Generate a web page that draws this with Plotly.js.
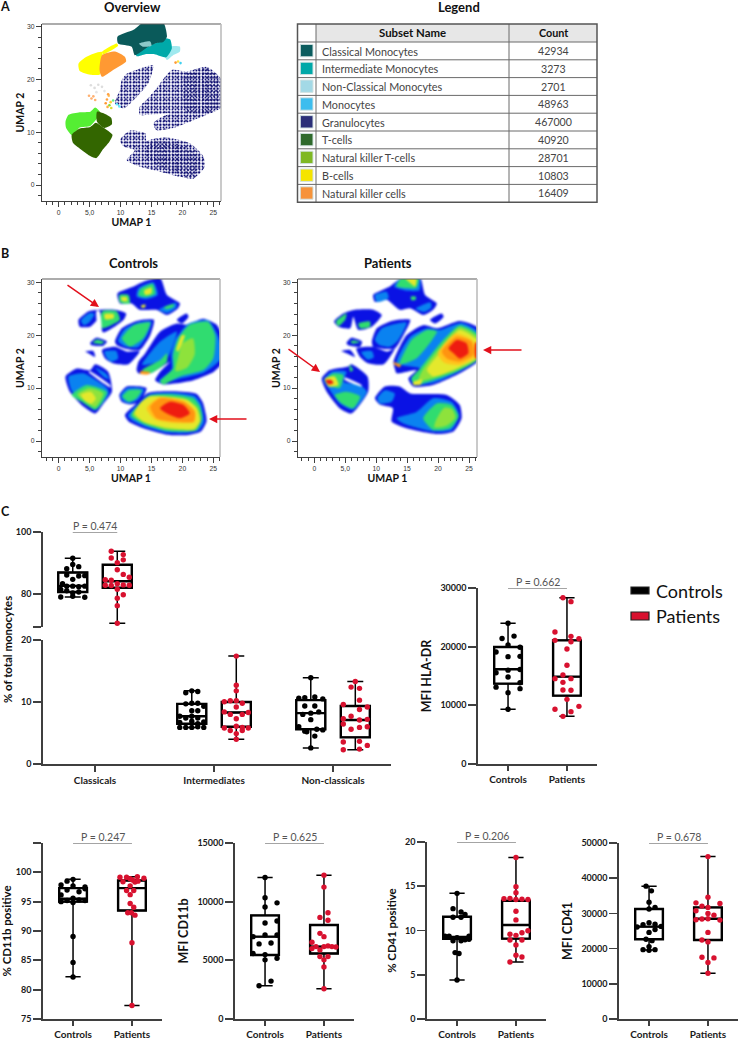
<!DOCTYPE html>
<html><head><meta charset="utf-8">
<script src="https://cdn.plot.ly/plotly-3.0.1.min.js"></script>
<style>html,body{margin:0;padding:0;background:#fff}#c{width:739px;height:1039px}</style>
</head><body><div id="c"></div>
<script>
/* ---------- legend table ---------- */
const subsetNames=['Classical Monocytes','Intermediate Monocytes','Non-Classical Monocytes','Monocytes','Granulocytes','T-cells','Natural killer T-cells','B-cells','Natural killer cells'];
const subsetCounts=[42934,3273,2701,48963,467000,40920,28701,10803,16409];
const subsetColors=['#0b5c5e','#00a8a8','#a3d9e6','#3dbdee','#2b2f78','#2f6a2c','#7fb823','#f5e400','#f6933a'];

/* ---------- UMAP regions: [kind, x,y, x,y, ...] in UMAP units ---------- */
const overviewRegions=[
 ['gran',11,21.1,13,22,15.3,22.7,14.5,19.3,13.3,17.6,12.1,16.1,10.5,14.5,9.1,15.5,9.9,18,10.2,19.9],
 ['gran',13.1,14.8,14.5,16.5,15.8,18.3,18.3,21.8,20.7,21.5,23.9,22.4,26.4,19.9,26.4,14.8,23.9,13.3,21,11.9,18.5,10.8,15.8,10.4,15.3,11.7,16.5,12.8,18,13.6,15.3,13.4,13.1,13.3],
 ['gran',9.9,8.5,11.5,10.3,14,9.8,14.2,8.4,15.5,8.8,17.5,9,21.2,7.9,23.4,5.4,23.6,3.4,21.8,1.2,19.5,1.6,17.5,2.2,13.1,3.5,11,4.7,12.3,6.6,10.5,7.3],
 ['dense',20,20.5,24,22,26.4,19.5,26.4,15,23.5,13.5,20.5,14],
 ['dense',15,8.3,20,7.5,23,5,22,2,17,3,14,5.5],
 ['#9fe9ef',18,26.2,19.6,26.2,19.6,25.3,18.5,24.6,17.5,23.7,17.2,24.3],
 ['#00a9a9',12.5,25.5,14,26.5,16,27,16.9,27.8,18,27.6,18.3,25.9,17.4,24.2,15.5,24.8,14,24.8,12.6,24.4],
 ['#0a5a5a',9.5,28.1,12.1,29.4,13.7,30.8,16.9,30.8,17.5,28.1,16.9,27.1,15.8,26.9,14.5,26.2,13.5,25.4,12.3,24.6,11.8,26.2,9.6,26.8],
 ['#8cc9c9',13,26.8,14.8,27.2,15,26.4,13.6,26.2],
 ['#ffff00',3.2,23,4.5,24.3,7,25.2,6.7,21,5.1,20.9,3.4,21.6],
 ['#ffff00',7,25.2,9.4,26.8,9.6,26.4,7.2,24.8],
 ['#ff9933',7,24.6,9.1,25.3,10.7,24.3,10.9,23.4,8.8,21.8,7,20.5,6.6,21.8],
 ['#55ee33',1.1,12,1.6,13.3,3.4,13.8,5.1,13.9,5.9,14.7,6.7,13.8,6,12.3,5.1,11.2,3.4,10.9,2.2,9.4,1.2,10.8],
 ['#336600',2.1,9.5,3.4,10.7,5.1,11,6,11.8,7.2,10.9,8.7,9.5,8.2,8.2,7.2,6.8,6.1,5.1,4.8,5.7,3.3,7,2.3,8],
 ['#336600',6.2,13.9,7.6,13.4,8.5,12.7,8.6,11.5,7.4,10.8,6.2,12]
];
const mixedX=[5.2,5.8,6.4,7,6.1,7.4,5.6,4.9,7.8,8.1,8.4,7.6,8.2,8.8,7.9,8.5,9.4,9.8,5.3,5.9,8,19.3,19.7,18.9];
const mixedY=[18.9,18.4,19,18.6,17.6,17.8,16.8,16.9,16.2,16.9,15.7,15.5,15.1,16,14.8,14.6,15.3,14.9,16.4,16.1,17.2,23.4,23.1,23.2];
const mixedColors=['#dddddd','#dddddd','#dddddd','#dddddd','#e5e5e5','#e5e5e5','#ffb070','#ffb070','#ffa040','#ffc060','#ffcc33','#ff9933','#88dd33','#66ee88','#ffb040','#dddd33','#66eeff','#66eeff','#ffb070','#ffb070','#ffa040','#ffe040','#40d0f0','#ff9933'];

const controlsRegions=[
 [0,10.7,4.9,12.3,6.8,14.5,9.1,18.5,9.4,22.3,8.9,23.3,7.3,23.8,5,23.9,3.7,23,1.8,20.7,1.1,17.5,1.2,13.7,2.4,11.3,3.7],
 [1,11.2,4.8,12.7,6.8,14.6,8.8,18.5,9.1,22,8.5,23,7,23.4,5,23.5,3.6,22.6,2,20.5,1.5,17.5,1.6,13.8,2.8,11.7,4],
 [2,11.7,4.8,13,6.9,14.7,8.6,18.5,8.8,21.8,8.1,22.8,6.6,23.2,4.4,22.3,2.1,20,1.8,17.5,1.9,13.7,3.2],
 [6,12,5,13.2,7.2,14.8,8.5,20.7,7.9,22.5,6.2,23,3.8,22,2.1,17.5,2.2,13.7,3.5],
 [3,12.3,5.2,13.4,7.4,14.8,8.4,20.7,7.8,22.3,6.2,22.8,3.7,21.8,2.3,17.5,2.5,13.7,3.7],
 [7,14.2,6.2,16.2,8.2,20.2,7.6,22.1,5.6,22,3.6,18.5,3.4,15.5,4.1],
 [4,14.8,6.5,16.4,8.1,20.2,7.4,22,5.5,21.8,3.7,18.5,3.7,15.8,4.3],
 [5,16.4,6.2,18,7.4,20.2,6.8,21.2,5.2,19.6,4.3,17.5,5.2],
 [0,9.8,8.7,11,10.3,14.2,10,13.1,7.4,11.5,6.9,10.2,7.4],
 [1,10,8.6,11.1,10,13.8,9.8,12.8,7.8,11.4,7.1,10.4,7.6],
 [2,10.3,8.4,11.3,9.6,13.4,9.6,12.6,8.1,11.3,7.4],
 [0,1.1,12.2,2.9,13.7,5.1,13.4,5.9,14.5,8,13.1,8.6,9.3,7.2,7,5.9,5.2,4,6.5,1.8,9.3],
 [1,1.6,12.2,4,12.8,5.6,11.8,7.8,10,8.1,9,7,7,5.9,5.8,4.3,7.1,2.1,9.5],
 [2,2.1,8.7,4.5,10.6,7.8,9.3,7,7.2,5.9,5.9,3.7,7.4],
 [6,3,8.8,5,10,7.2,9,5.9,6.4,4.2,7.6],
 [3,3.6,8.8,5.2,9.3,6,8,5.2,7,4.2,7.6],
 [1,5.9,13.9,7.6,12.8,8.2,11.7,7.4,12],
 ['w',4.9,13.3,8.3,10.6,8.4,10.1,4.9,13],
 [0,9.5,27.9,12.1,29.2,13.7,30.1,16.4,30.8,17.5,27.6,19.6,26,19.3,25.1,17.5,23.8,15.8,24.8,13.1,24.8,11.8,26,9.9,26],
 [1,12.9,28.9,15.3,30,16,27.6,14,26.8,12.6,27.3],
 [2,13.2,28.7,15.2,29.7,15.6,27.8,14,27.2,12.9,27.5],
 [3,13.8,28.4,15,29,15,27.9,14,27.6],
 [2,9.8,27.6,11.3,27.6,11.5,26,9.9,26.2],
 [3,10.1,27.2,11,27.2,11.1,26.4,10.2,26.5],
 [1,16.2,24.8,19,26.1,19,25.2,17.5,24.2],
 [2,17,25.3,18.6,25.9,18.6,25.4,17.4,24.9],
 [3,13.3,25.6,14,25.8,14,25.3,13.4,25.2],
 [0,3.2,22.9,4.8,24.5,6.7,24.8,9.1,24.8,10.9,24.1,10.5,22.9,7.2,20.5,6.4,22.9,5.1,21.6,3.4,21.6],
 [1,3.6,22.8,5,24.2,5.8,24,5,22.5,4.1,21.9],
 [2,7,24.5,9.4,24.5,9.9,22.9,7,21.3],
 [3,7.4,24,8.9,24,8.9,23.2,7.5,23],
 ['w',6.1,24.6,6.6,24.6,6.9,20.8,6.4,21],
 [0,9.1,18.8,10.2,21.3,12.6,22.7,15.4,22.9,14.8,20,13.1,17.2,10.7,17.5,9.4,18.1],
 [1,9.6,18.9,10.6,21.1,12.8,22.4,15,22.6,14.3,20,12.8,17.7,10.7,17.9],
 [2,10.2,19.4,12.1,21.9,14.8,22.4,13.7,19.4,11.5,17.8],
 [0,7,17.2,9.1,17.8,11,16.9,13.1,17,11.3,14.5,8.8,14.7,7.5,15.6],
 [1,7.4,16.9,9.3,17,9.6,15.6,8.5,15,7.7,15.8],
 [0,5.1,18.5,6.1,19.5,7.8,18.8,7.2,18,5.3,18.1],
 [2,5.5,18.6,6.2,19.2,7.4,18.7,6.8,18.3],
 [0,4.3,16.9,5.6,17,5.9,15.9,4.8,16.6],
 [0,19.1,22.9,20.7,24.1,21,23.5,19.9,22.2],
 [0,12.9,15,14,16.6,16.4,20.7,19.1,22.2,20.7,22,23.4,23.1,25.5,22,26.6,19.4,26.6,15,25.1,13.1,21.8,11.5,19,10.9,16.9,10.7,15.6,11.5,16.4,13.1,18,15,14.8,12.8,12.9,12.8,12.6,13.4],
 [1,13.5,14.4,16.4,18.8,19.1,20.7,18.5,18.1,17.5,15.6],
 [1,18.2,16.3,19,19.4,21,22.2,24.2,22.8,25.7,20,26.6,16,23.6,13,19.6,11.8,16.7,10.9,16.2,11.3,18.3,13.6],
 [2,18.5,16.3,19.3,19.4,21.2,22,24.2,22.5,25.3,20,25,15.6,23.4,13.4,19.6,12.2,16.9,10.7,16.4,11.3,18.5,13.7],
 [6,19.3,15.8,20,18.4,21.7,19.4,22,16.4,20.8,13.9,18.9,13.2],
 [2,13.5,13.4,16.4,15.3,17.5,16.6,17.5,15,14.8,12.8],
 [3,19,17.2,19.9,20,20.4,20,19.3,16.9],
 [4,13.2,13.2,14.8,13,14.5,12.6,13.2,12.7]
];
const patientsRegions=[
 [0,12.8,15,14.9,20,17.6,21.9,19.8,21.3,23.5,22.7,26.6,21.3,26.6,15.3,23.5,12.8,19.2,10.6,16,10.3,15.2,11.8,16.5,13.4,13.3,12.8,13,13.7],
 [1,13.3,14.7,15.5,19.7,18.2,21.3,20.3,21,23.8,22.3,26.6,20.5,26.6,15.6,23.5,13.2,19.5,11.1,16.1,10.6,15.6,11.8,17.1,13.7],
 [2,13.8,14.5,15.7,19.1,18.2,21,19.8,20.7,16.5,15.6],
 [2,17.1,13.7,20.6,18.8,23.5,21.9,26.6,20,26.6,15.6,23,13.1,19.2,11.5,16.3,10.6,15.7,11.8],
 [6,17.6,13.6,20.7,18.2,23.5,21.5,26.6,19.4,26.6,15.8,23,13.4,19.2,11.9,16.8,11.4],
 [3,18.2,13.4,20.9,17.5,23.5,21,26.6,18.8,26.6,16,23,13.7,19.2,12.2],
 [7,20,16.5,22.8,20.3,25.6,19,26.3,16.3,23.6,14.4,21,14.8],
 [4,20.6,16.9,23,19.7,25.4,18.8,25.7,16.3,23.5,15,21.4,15.6],
 [5,21.7,17.5,23,19.1,24.6,18.5,24.9,16.6,23.5,15.6,22.5,16.6],
 [5,26.05,18.6,26.6,18.6,26.6,15.6,26.05,15.6],
 [3,16,11.2,17.5,11.6,17.1,10.6,16,10.6],
 [4,12.8,14.9,14,14.4,13.8,13.9,12.9,14.5],
 [0,9.8,8.1,11.4,10.3,13.8,10.3,15.5,9,21.4,8.7,23.5,6.8,23.8,4.3,22.5,1.8,19.8,1.3,14.9,2.4,12.5,3.7,12.7,6.2,10.6,6.9],
 [1,16.5,5.5,19.2,8.1,22.2,7.4,23.4,4.9,22.2,2.1,19.2,1.8,14.4,3.3,13.3,4.3],
 [2,17.6,4.3,19.8,7.1,22.2,6.8,23.3,4.6,21.9,2.4,19.2,2.1],
 [6,19.7,4,21,6.3,22.3,6,22.8,4.4,21.4,2.9,19.4,2.6],
 [1,10.2,8.1,11.4,9.6,13,9,12.5,7.4,10.6,7.1],
 [0,1.2,11.8,2.5,13.4,5.5,14.1,6,14.5,8.6,12.2,8.7,9.3,6,5.2,4.1,6.2,2,9.3],
 [1,1.5,11.5,2.8,13.1,5.2,13.1,4.7,11.2,7.4,10.6,8.5,9.3,6.3,5.9,4.1,7.1,2.3,10],
 [2,1.7,11.5,3.1,12.8,4.7,12.5,4.1,10,2.3,10.6],
 [2,3.3,8.7,5.2,9.3,7.4,8.4,6.3,6.2,4.4,7.1],
 [3,1.7,11.8,3.3,12.2,3.9,10.6,2.3,10.3],
 [5,1.8,11.5,2.8,11.5,3.1,10.9,2.3,10.7],
 [2,5.7,14.4,6.3,13.4,5.8,13.1],
 ['w',4.9,12,7.6,10.6,7.7,10.3,4.9,11.6],
 [0,9.5,27.6,12.2,29.2,14.1,30.8,17.1,30.8,17.9,27.6,19.8,26,19.2,24.8,17.6,23.8,15.5,25.1,13.8,24.8,11.7,26.7,9.8,26.3],
 [1,12.9,29.2,14,30.8,17,30.8,17,28.5,14.9,28.4],
 [2,13.3,29.2,14.1,30.8,16.9,30.8,16.5,28.9,14.9,28.9],
 [3,14.7,30.8,16.5,30.8,16.3,29.2],
 [1,9.8,27.6,11.7,28.2,12,27,10.1,26.3],
 [2,15.6,27.3,16.4,27.3,16.4,26.7,15.7,26.6],
 [1,16.4,25,18.8,26.2,18.9,25.2,17.7,24.4],
 [0,3.2,22.6,4.7,24.1,6.6,24.8,9.5,24.8,10.9,23.8,9.3,21.6,7.1,21,6.3,23.5,5.8,21.3,3.9,21.6],
 [2,7.1,22.2,9,22.6,9,21.6,7.4,21.3],
 [2,3.5,22.6,5.2,24.1,5,22.9,3.9,21.7],
 [0,9.3,18.8,10.1,21.3,12.5,22.7,15.5,22.9,14.4,20,13,17.5,10.6,17.5,9.5,17.8],
 [1,9.8,19.1,10.9,21.3,14.9,22.4,13.6,19.1,12.2,17.8,10.6,18.1],
 [0,6.8,17.5,9.5,17.8,11.7,16.9,13,17.5,11.2,14.5,8.7,14.7,7.4,15.9],
 [1,7.6,16.8,9.3,17,9.6,15.8,8.6,15.4],
 [0,5.2,18.5,6,19.5,7.7,18.8,7.4,17.8,5.5,18.1],
 [2,5.8,18.8,6.4,19,7.4,18.7,6.2,18.4],
 [0,4.4,17,5.8,17.2,6.6,15.9,5.2,16.6],
 [0,18.7,22.9,20.6,24.1,20.9,23.5,19.5,22.2]
];
const densityColors=['#0a12e4','#0a82f0','#30dc70','#e4e82c','#ff9410','#ee1c10','#8ee23c','#ffc41c'];

/* ---------- panel C: values, beeswarm slots, box stats [low,q1,median,q3,high] ---------- */
const classicalCtrl=[91.5,88.8,88.1,89.5,86.1,85.8,85.9,84.7,83.3,82.5,82.5,82.3,82.5,81.4,81,80.6,80.3,79,78.9,79.2];
const classicalCtrlSlot=[0,1,-1,0,-1,1,2,0,-1.7,-1,0,1,2,-2,-1,1,0,-2,2,0];
const classicalCtrlBox=[79,80.6,82.6,86.9,91.5];
const classicalPat=[93.8,92.7,91.6,91,90.1,87.8,86.3,85.4,84.6,84.4,83.3,82.8,82.7,82.9,82.8,81.5,79.7,78.6,76.2,70.5];
const classicalPatSlot=[-1,1,-1,1,0,0,1,2,-2,-1,0,-2,-1,1,2,0,1,0,0,0];
const classicalPatBox=[70.5,82,84.1,89.4,93.8];
const interCtrl=[11.5,11.8,11.7,9.8,9.7,9.8,9.3,8.6,8.6,7.7,7.7,7.4,7.4,6.7,6.9,6.8,6.5,5.9,5.9,5.9,6,5.9];
const interCtrlSlot=[-1,0,1,0,-1,1,2,0,1,-2,0,-1,1,-2,0,2,1,-2,0,-1,1,2];
const interCtrlBox=[5.9,6.5,7.7,9.7,11.8];
const interPat=[17.4,12.7,11.8,10.05,10.2,10.2,9.8,9.2,8.4,8,8.3,8,7.3,6.1,5.8,5.9,5.8,5.4,5.4,4.9,4];
const interPatSlot=[0,0,0,-2,-1,0,1,0,-2,-1,2,1,0,0,-2,1,2,-1,1,0,0];
const interPatBox=[4,6,8.3,10,17.4];
const nonclCtrl=[13.9,10.6,10.7,10.8,10.5,9.35,9.35,8.4,8,8.2,7.15,6,5.3,5.6,5.5,5.2,4.5,2.6];
const nonclCtrlSlot=[0,-2,-1,0.67,2,-1,0.67,1.33,-1.33,0,0,-2,-1,1,2,-0.67,0.67,0];
const nonclCtrlBox=[2.6,5.6,8.2,10.3,13.9];
const nonclPat=[13.3,12.4,12.2,10.3,9.6,9.2,8.8,7.7,7.3,7.1,7.2,6.45,6,5.9,5.6,3.55,3.65,3,2.3,2.4];
const nonclPatSlot=[0,-0.7,0.7,0.7,-2,2,0.7,-0.7,-2,0.7,2,-2,2,0.7,-0.7,-2,0.7,2,-2,0.7];
const nonclPatBox=[2.3,4.3,7.1,9.35,13.3];

const hlaCtrl=[24000,21800,21400,20300,19900,19100,18300,18350,16000,16100,15550,14830,13860,13100,12840,12160,9320];
const hlaCtrlSlot=[0,1,-1,0,2,-2,0,2,0,2,-2,0,2,-2,2,0,0];
const hlaCtrlBox=[9320,13700,16140,19940,24000];
const hlaPat=[28350,27670,22500,21760,21360,21080,20850,19600,16820,15170,14550,14550,13920,12610,12560,11020,9830,9320,8920,8125];
const hlaPatSlot=[-0.67,0.67,-2,0.67,2,-2,0.67,0,0,-0.67,-2,0.67,-0.67,-0.67,0.67,0,2,-2,0.67,-0.67];
const hlaPatBox=[8125,11650,14890,21080,28350];

const cd11bCtrl=[98.8,98.5,97.85,97.7,97.5,97,96.7,96.15,95.6,97.2,95.2,95,95.2,95.3,94.85,89.05,84.65,82.15];
const cd11bCtrlSlot=[0,-1,-2,0,2,-1,1,-2,0,2,2,-2,-1,1,0,0,0,0];
const cd11bCtrlBox=[82.2,95,95.5,97.3,98.8];
const cd11bPat=[99.15,99.15,99.25,99,98.9,98.7,98.4,98.35,98.5,97.7,96.9,96.9,96.2,94.7,94.05,93.1,93.1,92.7,88,77.3];
const cd11bPatSlot=[-2,-0.9,0.9,2,-0.3,0.1,-1.5,0.5,1,-0.3,-0.9,0.3,-0.3,-0.3,0.3,-0.7,-0.1,0.5,0,0];
const cd11bPatBox=[77.3,93.5,97.3,98.6,99.25];

const mfi11bCtrl=[12060,10330,9900,9540,8350,8180,7160,7160,7020,6400,6480,5580,5490,5180,5040,3230,2830];
const mfi11bCtrlSlot=[0,0,2,0,2,0,0,2,-2,-1,1,-2,0,2,0,1,-1];
const mfi11bCtrlBox=[2830,5460,7020,8830,12060];
const mfi11bPat=[12260,11240,9060,8660,8410,7300,7020,6540,6170,6000,5890,6170,6230,6170,6140,5320,5320,5040,4440,2580];
const mfi11bPatSlot=[0,0,0.67,-0.67,0.67,-0.67,0,-2,-1.33,-2,-0.67,0,0.67,1.33,2,-0.67,0.67,0,0,0];
const mfi11bPatBox=[2580,5580,6170,8010,12260];

const cd41Ctrl=[14.2,12.47,12.1,11.8,11.5,11.5,9.35,9.35,9.35,9.2,8.85,8.85,8.95,9,7.5,7.4,4.4];
const cd41CtrlSlot=[0,-0.67,0.67,1.33,-0.67,0.67,-2,-1.33,2,0,-0.67,0.67,1.33,2,-0.33,0.33,0];
const cd41CtrlBox=[4.4,9.05,9.27,11.55,14.2];
const cd41Pat=[18.25,14.95,14.27,13.6,13.63,13.5,13.55,13.5,12.17,11.2,9.98,9.75,9.57,9.45,8.93,8.93,8.36,7.2,7,6.44];
const cd41PatSlot=[0,0,0,-2,-1,0,1,2,0,0,2,1,-1,0,1,-1,0,0,1,-1];
const cd41PatBox=[6.44,9.08,10.62,13.37,18.25];

const mfi41Ctrl=[37740,36400,33200,31700,31230,26800,27360,26900,26300,26130,25400,24600,22640,22260,20570,19700,19700,19500];
const mfi41CtrlSlot=[-0.5,0.4,0,1,0,-1,0,1,2,-2,1,0,-0.5,0.5,0,-1,1,0];
const mfi41CtrlBox=[19600,22640,26230,31230,37740];
const mfi41Pat=[46130,34620,33000,32830,32070,31700,30750,30000,29500,28200,28400,28490,28100,24600,22450,21900,17550,17360,16040,13000];
const mfi41PatSlot=[0,0,-2,2,-1,0,-2,0,1,-2,-1,0,2,0,-1,0,-1,1,0,0];
const mfi41PatBox=[13000,22450,28490,31700,46130];

const pValues={classical:'P = 0.474',inter:'P = 0.827',noncl:'P = 0.455',hla:'P = 0.662',cd11b:'P = 0.247',mfi11b:'P = 0.625',cd41:'P = 0.206',mfi41:'P = 0.678'};
const groupNames=['Controls','Patients'];
const panelCLabels=['Classicals','Intermediates','Non-classicals'];

/* ---------- helpers ---------- */
const W=739,H=1039;
const xd=(l,r)=>[l/W,r/W], yd=(t,b)=>[1-b/H,1-t/H];
const BLACK='#000000',RED='#d8112f',AX='#3f3f3f',LATO='Lato, sans-serif',ARIAL='"Liberation Sans", Arial, sans-serif';
const traces=[],shapes=[],annotations=[];
const layout={width:W,height:H,margin:{l:0,r:0,t:0,b:0},paper_bgcolor:'#fff',plot_bgcolor:'rgba(0,0,0,0)',showlegend:false,boxmode:'overlay',hovermode:false,shapes,annotations};

function unzip(a){const x=[],y=[];for(let i=1;i<a.length;i+=2){x.push(a[i]);y.push(a[i+1]);}x.push(x[0]);y.push(y[0]);return{x,y};}
function txt(s,px,py,size,o){annotations.push(Object.assign({text:s,xref:'paper',yref:'paper',x:px/W,y:1-py/H,showarrow:false,font:{family:LATO,size,color:'#111'},xanchor:'center',yanchor:'middle'},o||{}));}

/* UMAP axes */
function umapAxes(n,l,r,t,b,x0,x25,y30,y0){
  const sx=(x25-x0)/25, sy=(y0-y30)/30;
  const xs=n===1?'':n, common={ticks:'outside',showline:true,linecolor:AX,linewidth:1.2,tickcolor:AX,tickwidth:1,ticklen:5,showgrid:false,zeroline:false,fixedrange:true,tickfont:{family:ARIAL,size:6.8,color:'#333'}};
  layout['xaxis'+xs]=Object.assign({},common,{domain:xd(l,r),anchor:'y'+xs,range:[(l-x0)/sx,(r-x0)/sx],tickvals:[0,5,10,15,20,25],ticktext:['0','5,0','10','15','20','25'],
    minor:{dtick:1,ticks:'outside',ticklen:2.5,tickcolor:AX,tickwidth:1,showgrid:false},
    title:{text:'UMAP 1',font:{family:LATO,size:10.5,color:'#111',weight:'bold'},standoff:2}});
  layout['yaxis'+xs]=Object.assign({},common,{domain:yd(t,b),anchor:'x'+xs,range:[(y0-b)/sy,(y0-t)/sy],tickvals:[0,10,20,30],
    minor:{dtick:2,ticks:'outside',ticklen:2.5,tickcolor:AX,tickwidth:1,showgrid:false},
    title:{text:'UMAP 2',font:{family:LATO,size:10.5,color:'#111',weight:'bold'},standoff:0}});
  shapes.push({type:'line',xref:'x'+xs+' domain',yref:'y'+xs+' domain',x0:0,x1:1,y0:1,y1:1,line:{color:'#5a5a5a',width:1.2}});
  shapes.push({type:'line',xref:'x'+xs+' domain',yref:'y'+xs+' domain',x0:1,x1:1,y0:0,y1:1,line:{color:'#bdbdbd',width:1.6}});
}
function region(n,a,color,extra){
  const s=n===1?'':n,p=unzip(a);
  traces.push(Object.assign({type:'scatter',xaxis:'x'+s,yaxis:'y'+s,x:p.x,y:p.y,mode:'lines',fill:'toself',fillcolor:color,line:{width:0,shape:'spline',smoothing:0.6},hoverinfo:'skip'},extra||{}));
}
umapAxes(1,42,221,24,201,58.7,213.3,26.7,185);
umapAxes(2,42,220,279,457,58.7,213.3,282.3,441);
umapAxes(3,298,477,279,457,314.3,469,282.3,441);

const speck=(size,solidity,fg,bg)=>({fillpattern:{shape:'.',size,solidity,fgcolor:fg,bgcolor:bg||'rgba(0,0,0,0)'}});
overviewRegions.forEach(r=>{
  if(r[0]==='gran'){
    region(1,r,'rgba(0,0,0,0)',speck(3,0.28,'#10107a','rgba(225,225,245,0.35)'));
    region(1,r,'rgba(0,0,0,0)',speck(4.3,0.2,'#0c0c6e'));
  } else if(r[0]==='dense'){
    region(1,r,'rgba(0,0,0,0)',speck(3.7,0.22,'#0a0a68'));
  } else region(1,r,r[0]);
});
traces.push({type:'scatter',xaxis:'x',yaxis:'y',x:mixedX,y:mixedY,mode:'markers',marker:{size:2.6,color:mixedColors},hoverinfo:'skip'});
controlsRegions.forEach(r=>region(2,r,r[0]==='w'?'#ffffff':densityColors[r[0]]));
patientsRegions.forEach(r=>region(3,r,r[0]==='w'?'#ffffff':densityColors[r[0]]));

/* Box panels */
function groupTraces(xa,ya,xc,vals,slots,box,step,bw,color){
  const [lo,q1,med,q3,hi]=box;
  const base={type:'box',xaxis:xa,yaxis:ya,x:[xc],width:bw,fillcolor:'rgba(0,0,0,0)',boxpoints:false,hoverinfo:'skip',marker:{opacity:0}};
  traces.push(Object.assign({},base,{q1:[q1],median:[med],q3:[q3],lowerfence:[lo],upperfence:[hi],whiskerwidth:0.55,line:{color:'#000',width:1.5}}));
  traces.push(Object.assign({},base,{q1:[q1],median:[med],q3:[q3],lowerfence:[q1],upperfence:[q3],whiskerwidth:0,line:{color:'#000',width:2.4}}));
  traces.push({type:'scatter',xaxis:xa,yaxis:ya,x:vals.map((v,i)=>xc+slots[i]*step),y:vals,mode:'markers',marker:{size:5.4,color},hoverinfo:'skip'});
}
function bracket(xa,ya,x0,x1,y,label){
  traces.push({type:'scatter',xaxis:xa,yaxis:ya,x:[x0,x1],y:[y,y],mode:'lines',cliponaxis:false,line:{color:'#4a4a4a',width:1.1},hoverinfo:'skip'});
  annotations.push({text:label,xref:xa,yref:ya,x:(x0+x1)/2,y,yanchor:'bottom',yshift:-1.5,showarrow:false,font:{family:LATO,size:10.5,color:'#555'}});
}
const axBase={showline:true,linecolor:AX,linewidth:1.7,ticks:'outside',tickcolor:AX,tickwidth:1.7,showgrid:false,zeroline:false,fixedrange:true,tickfont:{family:LATO,size:9,color:'#1a1a1a',weight:'bold'}};
const xTickFont={family:LATO,size:10,color:'#1a1a1a',weight:'bold'};
const titleFont=s=>({family:LATO,size:s,color:'#111',weight:'bold'});

/* small two-group panels */
function smallPanel(n,l,t,b,ymax,tickvals,ticktext,title,tsize,standoff,key,ctrl,ctrlS,ctrlB,pat,patS,patB,ymin){
  const xa='x'+n,ya='y'+n;
  layout['xaxis'+n]=Object.assign({},axBase,{domain:xd(l,l+119),anchor:ya,range:[0.49,2.51],tickvals:[1,2],ticktext:groupNames,ticklen:5,tickfont:xTickFont});
  layout['yaxis'+n]=Object.assign({},axBase,{domain:yd(t,b),anchor:xa,range:[ymin||0,ymax],tickvals,ticktext,ticklen:8,title:{text:title,font:titleFont(tsize),standoff}});
  groupTraces(xa,ya,1,ctrl,ctrlS,ctrlB,6/59,0.47,BLACK);
  groupTraces(xa,ya,2,pat,patS,patB,6/59,0.47,RED);
  bracket(xa,ya,1,2,ymax,key);
}
smallPanel(6,478,588,764,30000,[0,10000,20000,30000],['0','10000','20000','30000'],'MFI HLA-DR',12.5,6,pValues.hla,hlaCtrl,hlaCtrlSlot,hlaCtrlBox,hlaPat,hlaPatSlot,hlaPatBox);
smallPanel(7,43,843,1019,105,[75,80,85,90,95,100,105],['75','80','85','90','95','100',''],'% CD11b positive',11.4,5,pValues.cd11b,cd11bCtrl,cd11bCtrlSlot,cd11bCtrlBox,cd11bPat,cd11bPatSlot,cd11bPatBox,75);
smallPanel(8,235,843,1019,15000,[0,5000,10000,15000],['0','5000','10000','15000'],'MFI CD11b',12.5,6,pValues.mfi11b,mfi11bCtrl,mfi11bCtrlSlot,mfi11bCtrlBox,mfi11bPat,mfi11bPatSlot,mfi11bPatBox);
smallPanel(9,427,842,1019,20,[0,5,10,15,20],['0','5','10','15','20'],'% CD41 positive',11.4,6,pValues.cd41,cd41Ctrl,cd41CtrlSlot,cd41CtrlBox,cd41Pat,cd41PatSlot,cd41PatBox);
smallPanel(10,619,843,1019,50000,[0,10000,20000,30000,40000,50000],['0','10000','20000','30000','40000','50000'],'MFI CD41',12.5,6,pValues.mfi41,mfi41Ctrl,mfi41CtrlSlot,mfi41CtrlBox,mfi41Pat,mfi41PatSlot,mfi41PatBox);

/* panel C broken axis */
layout.xaxis4=Object.assign({},axBase,{domain:xd(43,391),anchor:'y4',range:[0.563,3.487],tickvals:[1,2,3],ticktext:panelCLabels,ticklen:6,tickfont:xTickFont});
layout.yaxis4=Object.assign({},axBase,{domain:yd(640,764),anchor:'x4',range:[0,20],tickvals:[0,10,20],ticklen:8});
layout.yaxis5=Object.assign({},axBase,{domain:yd(532,627),anchor:'x4',range:[69.3,100],tickvals:[69.3,80,100],ticktext:['','80','100'],ticklen:8});
const off=0.187,bw=0.244,st=6/119;
groupTraces('x4','y5',1-off,classicalCtrl,classicalCtrlSlot,classicalCtrlBox,st,bw,BLACK);
groupTraces('x4','y5',1+off,classicalPat,classicalPatSlot,classicalPatBox,st,bw,RED);
groupTraces('x4','y4',2-off,interCtrl,interCtrlSlot,interCtrlBox,st,bw,BLACK);
groupTraces('x4','y4',2+off,interPat,interPatSlot,interPatBox,st,bw,RED);
groupTraces('x4','y4',3-off,nonclCtrl,nonclCtrlSlot,nonclCtrlBox,st,bw,BLACK);
groupTraces('x4','y4',3+off,nonclPat,nonclPatSlot,nonclPatBox,st,bw,RED);
bracket('x4','y5',1-off,1+off,100,pValues.classical);
bracket('x4','y4',2-off,2+off,20.4,pValues.inter);
bracket('x4','y4',3-off,3+off,20.4,pValues.noncl);
txt('% of total monocytes',7,650,11.4,{textangle:-90,font:titleFont(11.4)});

/* legend table, drawn as ruled cells */
const rowTop=42,rowH=17.8,tblL=297.5,tblR=597,col1=316,col2=509;
const px=v=>v/W, py=v=>1-v/H;
function rule(a,b,c,d,color,w){shapes.push({type:'line',xref:'paper',yref:'paper',x0:px(a),x1:px(c),y0:py(b),y1:py(d),line:{color,width:w}});}
shapes.push({type:'rect',xref:'paper',yref:'paper',layer:'below',x0:px(col1),x1:px(tblR),y0:py(24),y1:py(rowTop),fillcolor:'#e7e7e7',line:{width:0}});
for(let i=1;i<=subsetNames.length;i++){rule(tblL,rowTop+rowH*(i-1),tblR,rowTop+rowH*(i-1),'#6a6a6a',1);}
[col1,col2].forEach(c=>rule(c,24,c,rowTop+rowH*9,'#6a6a6a',1));
shapes.push({type:'rect',xref:'paper',yref:'paper',x0:px(tblL),x1:px(tblR),y0:py(24),y1:py(rowTop+rowH*9),line:{color:'#555',width:1.5}});
txt('Subset Name',412.5,33,11.4,{font:titleFont(11.4)});
txt('Count',553,33,10.8,{font:titleFont(10.8)});
subsetNames.forEach((n,i)=>{
  const y0=rowTop+rowH*i;
  shapes.push({type:'rect',xref:'paper',yref:'paper',x0:px(300.3),x1:px(313),y0:py(y0+2.4),y1:py(y0+14.8),fillcolor:subsetColors[i],line:{color:'#d3e2e2',width:1}});
  txt(n,320,y0+9,10.8,{xanchor:'left',font:{family:LATO,size:10.8,color:'#444'}});
  txt(String(subsetCounts[i]),553,y0+9,10.6,{font:{family:LATO,size:10.6,color:'#444'}});
});

/* titles & letters */
const bold=(size)=>({font:titleFont(size)});
txt('Overview',132,7,13,bold(13));
txt('Legend',459,7,13,bold(13));
txt('Controls',133,263,13,bold(13));
txt('Patients',388,263,13,bold(13));
txt('A',5,7,12.5,bold(12.5));
txt('B',5,253,12.5,bold(12.5));
txt('C',5,511,12.5,bold(12.5));

/* group legend */
shapes.push({type:'rect',xref:'paper',yref:'paper',x0:631/W,x1:649/W,y0:1-587/H,y1:1-594/H,fillcolor:'#000',line:{color:'#222',width:1.2}});
shapes.push({type:'rect',xref:'paper',yref:'paper',x0:631/W,x1:649/W,y0:1-612/H,y1:1-620/H,fillcolor:RED,line:{color:'#222',width:1.2}});
txt(groupNames[0],654,591,18,{xanchor:'left',font:{family:LATO,size:18,color:'#111'}});
txt(groupNames[1],654,616,18,{xanchor:'left',font:{family:LATO,size:18,color:'#111'}});

/* red arrows */
function arrow(x0,y0,x1,y1){annotations.push({xref:'paper',yref:'paper',x:x1/W,y:1-y1/H,ax:x0-x1,ay:y0-y1,axref:'pixel',ayref:'pixel',text:'',showarrow:true,arrowhead:2,arrowsize:1.1,arrowwidth:1.5,arrowcolor:'#e2101c'});}
arrow(66,284,99,307);arrow(248,419,209,419);arrow(287,348,320,372);arrow(523,350,483,350);

Plotly.newPlot('c',traces,layout,{displayModeBar:false,staticPlot:true}).then(()=>{
  const blur={xy:'0.6px',x2y2:'0.9px',x3y3:'0.9px'};
  Object.keys(blur).forEach(k=>{const g=document.querySelector('.subplot.'+k+' .scatterlayer');if(g)g.style.filter='blur('+blur[k]+')';});
});
</script></body></html>
